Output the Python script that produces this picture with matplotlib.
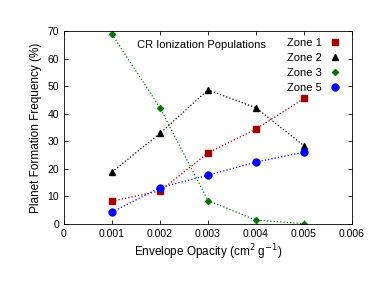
import matplotlib
matplotlib.use("Agg")
import matplotlib.pyplot as plt

opacity = [0.001, 0.002, 0.003, 0.004, 0.005]
zone1 = [8.2, 11.9, 25.7, 34.4, 45.5]
zone2 = [18.8, 32.8, 48.6, 42.1, 28.3]
zone3 = [68.8, 42.1, 8.4, 1.3, 0.0]
zone5 = [4.2, 13.1, 17.6, 22.4, 26.0]

xticks = [0, 0.001, 0.002, 0.003, 0.004, 0.005, 0.006]
xlabels = ["0", "0.001", "0.002", "0.003", "0.004", "0.005", "0.006"]

plt.rcParams['font.family'] = ['Liberation Sans', 'DejaVu Sans']

fig = plt.figure(figsize=(3.74, 2.89), dpi=100)
ax = fig.add_axes([64 / 374, 1 - 223.7 / 289, 288 / 374, 192.7 / 289])

series = [
    ("Zone 1", zone1, "#a00000", "s", 4.5),
    ("Zone 2", zone2, "black", "^", 4.2),
    ("Zone 3", zone3, "#007400", "D", 3.0),
    ("Zone 5", zone5, "#0000ff", "o", 5),
]
for name, vals, col, mk, ms in series:
    ax.plot(opacity, vals, linestyle=":", linewidth=0.9, color=col,
            marker=mk, markersize=ms, label=name)

ax.set_xlim(0, 0.006)
ax.set_ylim(0, 70)
ax.set_xticks(xticks)
ax.set_xticklabels(xlabels)
ax.set_yticks(range(0, 71, 10))
ax.tick_params(direction="in", top=True, right=True, labelsize=7.5, length=3, width=0.6)
for s in ax.spines.values():
    s.set_linewidth(0.6)

ax.set_xlabel("Envelope Opacity (cm$^2$ g$^{-1}$)", fontsize=8.5, labelpad=3)
ax.set_ylabel("Planet Formation Frequency (%)", fontsize=8.5, labelpad=4)
ax.text(0.476, 0.927, "CR Ionization Populations", transform=ax.transAxes,
        fontsize=8, ha="center", va="center")

leg = ax.legend(loc="upper right", fontsize=8, frameon=False, markerfirst=False,
                handlelength=1.0, handletextpad=0.7, labelspacing=0.45,
                borderaxespad=0.25, bbox_to_anchor=(0.985, 1.0))
for line in leg.get_lines():
    line.set_linestyle("")

fig.savefig("out.png", dpi=100)
